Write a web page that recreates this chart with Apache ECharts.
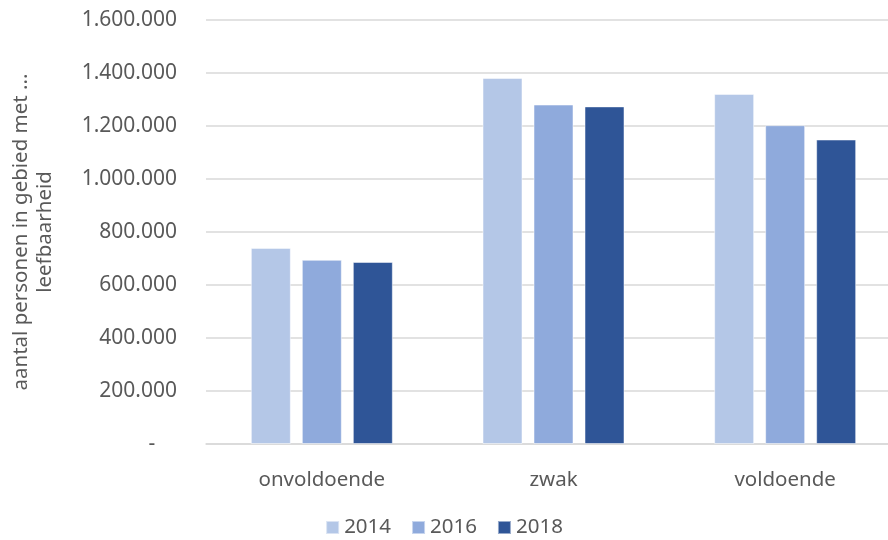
<!DOCTYPE html>
<html><head><meta charset="utf-8">
<script src="https://cdn.jsdelivr.net/npm/echarts@6/dist/echarts.min.js"></script>
<style>html,body{margin:0;padding:0;background:#fff}#c{width:888px;height:540px}</style>
</head><body><div id="c"></div>
<script>
var categories = ['onvoldoende', 'zwak', 'voldoende'];
var years = ['2014', '2016', '2018'];
var v2014 = [740000, 1381000, 1321000];
var v2016 = [695000, 1281000, 1203000];
var v2018 = [687000, 1274000, 1149000];
var yTicks = [0, 200000, 400000, 600000, 800000, 1000000, 1200000, 1400000, 1600000];
var colors = ['#b4c7e7', '#8faadc', '#2f5597'];
var seriesValues = [v2014, v2016, v2018];

function fmt(v) {
  if (v === 0) return '-    ';
  return String(v).replace(/\B(?=(\d{3})+(?!\d))/g, '.');
}
var font = 'Noto Sans';
var chart = echarts.init(document.getElementById('c'), null, {renderer: 'canvas'});
chart.setOption({
  animation: false,
  color: colors,
  textStyle: {fontFamily: font},
  grid: {left: 206, top: 20, width: 695, bottom: 96, containLabel: false, outerBoundsMode: 'none'},
  legend: {
    data: years, bottom: -3, left: 'center', itemWidth: 13, itemHeight: 13, itemGap: 20,
    icon: 'rect',
    textStyle: {fontFamily: font, fontSize: 20.5, color: '#595959'}
  },
  xAxis: {
    type: 'category', data: categories,
    axisLine: {lineStyle: {color: '#d9d9d9', width: 1.5}},
    axisTick: {show: false},
    axisLabel: {fontFamily: font, fontSize: 20.5, color: '#595959', margin: 26}
  },
  yAxis: {
    type: 'value', min: yTicks[0], max: yTicks[yTicks.length - 1], interval: 200000,
    name: 'aantal personen in gebied met ...\nleefbaarheid',
    nameLocation: 'middle', nameGap: 149, nameRotate: 90,
    nameTextStyle: {fontFamily: font, fontSize: 20.5, color: '#595959', lineHeight: 24},
    axisLine: {show: false}, axisTick: {show: false},
    splitLine: {lineStyle: {color: '#d9d9d9', width: 1.5}},
    axisLabel: {fontFamily: font, fontSize: 21, color: '#595959', margin: 29, formatter: fmt}
  },
  series: seriesValues.map(function (vals, i) {
    return {
      name: years[i], type: 'bar', data: vals, barWidth: 40, barGap: '27.5%',
      itemStyle: {color: colors[i], borderColor: 'rgba(255,255,255,0.5)', borderWidth: 1}
    };
  })
});
</script></body></html>
